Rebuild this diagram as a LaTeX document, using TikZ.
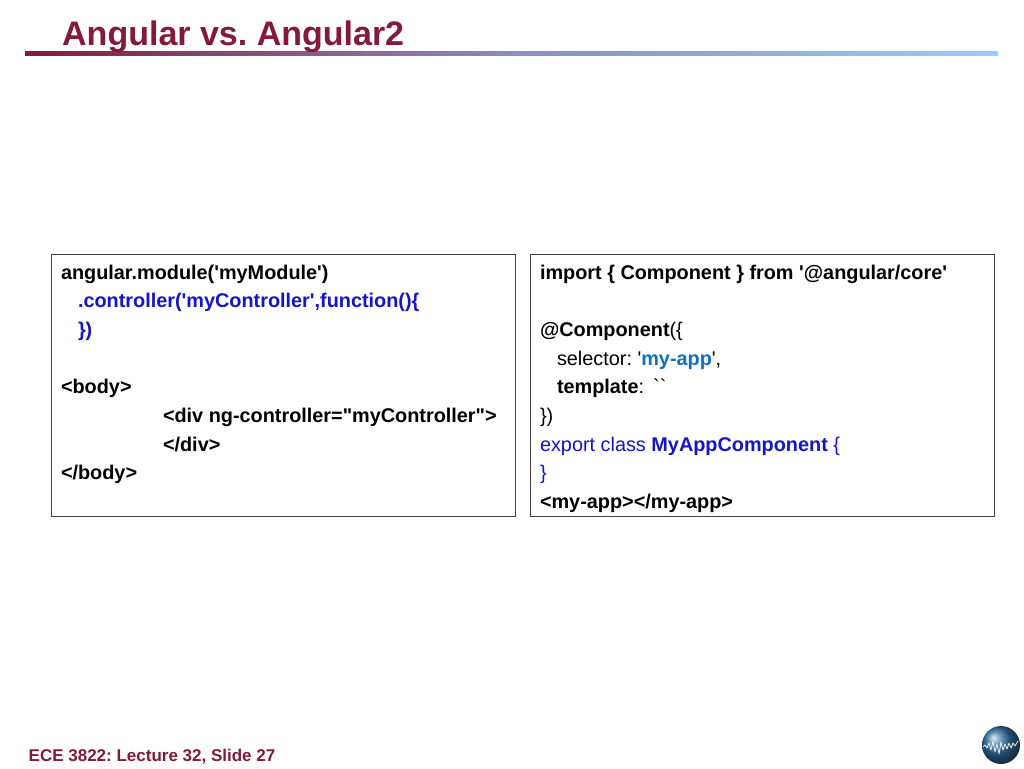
\documentclass[tikz,border=0pt]{standalone}
\usepackage{fontspec}
\setmainfont{Liberation Sans}[Ligatures=TeXOff]
\frenchspacing
\newcommand{\sq}{\symbol{39}}
\newcommand{\dq}{\symbol{34}}
\newcommand{\bt}{\symbol{96}}
\definecolor{maroon}{HTML}{84193A}
\definecolor{codeblue}{HTML}{1414C8}
\definecolor{appblue}{HTML}{0F70C0}
\definecolor{boxline}{HTML}{404040}
\definecolor{barmid}{HTML}{8C8CC0}
\definecolor{barend}{HTML}{99CCFF}
\definecolor{globe}{HTML}{2F6F9F}
\tikzset{
  panel/.style={draw=boxline,line width=0.9pt,fill=white},
  code/.style={anchor=base west,inner sep=0pt,outer sep=0pt,font=\fontsize{19.85}{22}\selectfont,text=black},
  bluecode/.style={code,text=codeblue},
  titletext/.style={anchor=base west,inner sep=0pt,font=\fontsize{34}{40}\selectfont\bfseries,text=maroon},
  foot/.style={anchor=base west,inner sep=0pt,font=\fontsize{17}{20}\selectfont\bfseries,text=maroon}
}
\begin{document}
\begin{tikzpicture}[x=1pt,y=-1pt]
\useasboundingbox (0,0) rectangle (1024,768);
\fill[white] (0,0) rectangle (1024,768);
% title bar
\shade[left color=maroon,right color=barmid,draw=none] (25,51.3) rectangle (512,56);
\shade[left color=barmid,right color=barend,draw=none] (512,51.3) rectangle (998,56);
\node[titletext] (title) at (62,45.5) {Angular vs. Angular2};
% panels
\node[panel,minimum width=464pt,minimum height=262.5pt,anchor=north west,inner sep=0pt] (leftbox) at (51,253.7) {};
\node[panel,minimum width=464.5pt,minimum height=262.5pt,anchor=north west,inner sep=0pt] (rightbox) at (529.7,253.7) {};
% left text
\node[code] (l1) at (61,279) {\bfseries angular.module(\sq myModule\sq)};
\node[bluecode] (l2) at (78,307.5) {\bfseries .controller(\sq myController\sq,function()\{};
\node[bluecode] (l3) at (78,336.5) {\bfseries \})};
\node[code] (l4) at (61,393.5) {\bfseries <body>};
\node[code] (l5) at (163,422) {\bfseries <div ng-controller=\dq myController\dq>};
\node[code] (l6) at (163,451) {\bfseries </div>};
\node[code] (l7) at (61,479.5) {\bfseries </body>};
% right text
\node[code] (r1) at (540,279) {\bfseries import \{ Component \} from \sq @angular/core\sq};
\node[code] (r2) at (540,336.5) {\textbf{@Component}(\{};
\node[code] (r3) at (557,365) {selector: \sq\textcolor{appblue}{\bfseries my-app}\sq,};
\node[code] (r4) at (557,393.5) {\textbf{template}:\hspace{9pt}\bt\bt};
\node[code] (r5) at (540,422) {\})};
\node[bluecode] (r6) at (540,451) {export class \textbf{MyAppComponent} \{};
\node[bluecode] (r7) at (540,479.5) {\}};
\node[code] (r8) at (540,508.5) {\bfseries <my-app></my-app>};
% footer
\node[foot] (footer) at (28.5,761) {ECE 3822: Lecture 32, Slide 27};
% globe
\shade[ball color=globe] (1001,745) circle (19);
\draw[white!85!gray,line width=0.8pt,line join=round]
  (983,747) -- (985,745) -- (987,748) -- (989,743) -- (991,750) -- (993,741) -- (995,752) -- (997,744)
  -- (999,754) -- (1001,742) -- (1003,750) -- (1005,744) -- (1007,749) -- (1009,743) -- (1011,748)
  -- (1013,743) -- (1015,746) -- (1018,741);
\end{tikzpicture}
\end{document}
